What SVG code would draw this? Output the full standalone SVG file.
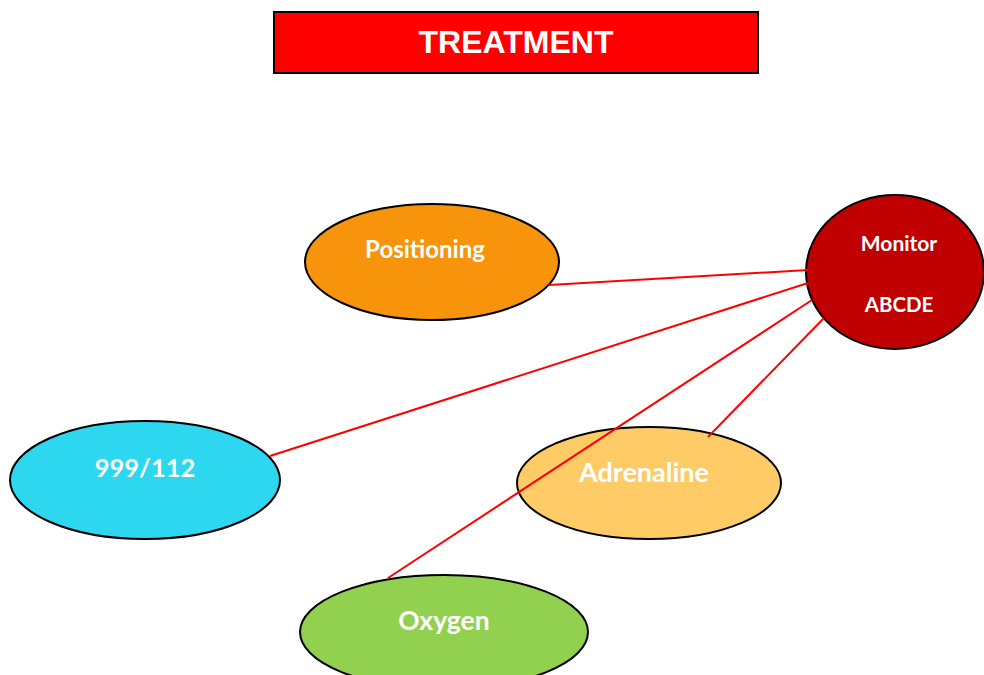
<svg xmlns="http://www.w3.org/2000/svg" width="984" height="675" viewBox="0 0 984 675">
<style>
.node{stroke:#000;stroke-width:2}
.lbl{font-family:Lato,"Open Sans","Noto Sans",sans-serif;font-weight:bold;fill:#fff;text-anchor:middle}
.conn line{stroke:#ff0000;stroke-width:2}
</style>
<rect width="984" height="675" fill="#fff"/>
<g id="title">
<rect x="274" y="12" width="484" height="61" fill="#ff0000" stroke="#000" stroke-width="2"/>
<text x="516" y="53" font-family="'Liberation Sans',Arial,sans-serif" font-weight="bold" font-size="32" fill="#fff" text-anchor="middle">TREATMENT</text>
</g>
<g id="positioning">
<ellipse class="node" cx="432" cy="262" rx="127" ry="58" fill="#f7940c"/>
<text class="lbl" x="425" y="258" font-size="24">Positioning</text>
</g>
<g id="monitor">
<ellipse class="node" cx="895" cy="272" rx="89" ry="77" fill="#c00000"/>
<text class="lbl" x="899" y="251" font-size="21">Monitor</text>
<text class="lbl" x="899" y="312" font-size="20.5">ABCDE</text>
</g>
<g id="n999">
<ellipse class="node" cx="145" cy="480" rx="135" ry="59" fill="#2cd7ef"/>
<text class="lbl" x="145" y="477" font-size="25.5">999/112</text>
</g>
<g id="adrenaline">
<ellipse class="node" cx="649" cy="483" rx="132" ry="56" fill="#fecb66"/>
<text class="lbl" x="644" y="482" font-size="27">Adrenaline</text>
</g>
<g id="oxygen">
<ellipse class="node" cx="444" cy="632" rx="144" ry="57" fill="#92d050"/>
<text class="lbl" x="444" y="630" font-size="26.5">Oxygen</text>
</g>
<g id="connectors" class="conn">
<line x1="549" y1="285" x2="808" y2="270"/>
<line x1="270" y1="456" x2="808" y2="283"/>
<line x1="388" y1="578" x2="812" y2="300"/>
<line x1="708" y1="437" x2="824" y2="318"/>
</g>
</svg>
